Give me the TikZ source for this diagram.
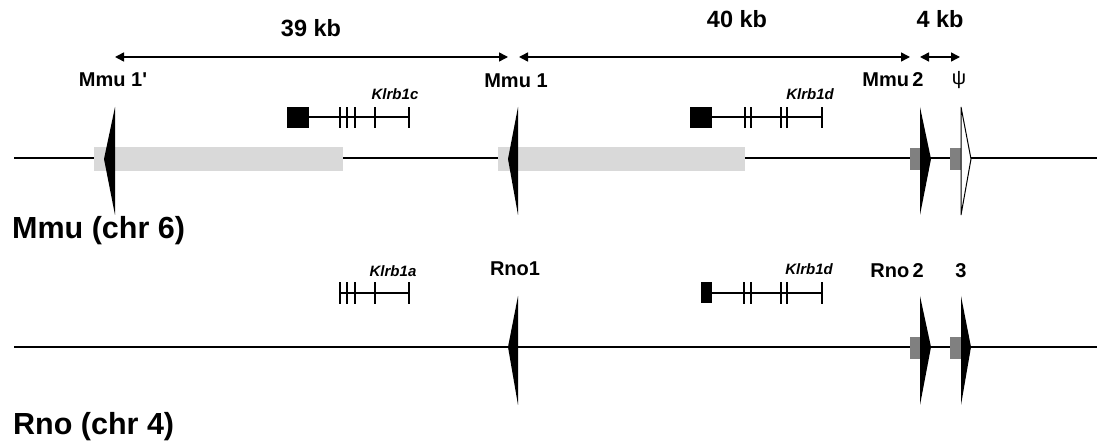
\documentclass[tikz,border=0pt]{standalone}
\usepackage{fontspec}
\setmainfont{Liberation Sans}[Ligatures=TeXOff]
\usetikzlibrary{arrows.meta}
\definecolor{lightgrey}{HTML}{D9D9D9}
\definecolor{darkgrey}{HTML}{808080}
\newlength{\basisb}
\setlength{\basisb}{1pt}
\tikzset{
  kblabel/.style={font=\fontsize{23.5}{28}\selectfont\bfseries, anchor=base, inner sep=0pt},
  sitelabel/.style={font=\fontsize{20}{24}\selectfont\bfseries, anchor=base, inner sep=0pt},
  genelabel/.style={font=\fontsize{15}{18}\selectfont\bfseries\itshape, anchor=base, inner sep=0pt},
  chrlabel/.style={font=\fontsize{30.5}{36}\selectfont\bfseries, anchor=base west, inner sep=0pt},
  kbarrow/.style={arrows={Triangle[length=9pt,width=9pt]-Triangle[length=9pt,width=9pt]}, line width=1.5},
  chromline/.style={line width=2.6},
  genetick/.style={line width=1.2},
  thickbar/.style={line width=2.6}
}
\begin{document}
\begin{tikzpicture}[x=\basisb, y=\basisb]
    \useasboundingbox (0,0) rectangle (1097,444);

    % sites on the two chromosomes
    \coordinate (Mmu1p) at (115,286);
    \coordinate (Mmu1) at (518,286);
    \coordinate (Mmu2) at (920,286);
    \coordinate (Psi) at (961,286);
    \coordinate (Rno1) at (518,97);
    \coordinate (Rno2) at (920,97);
    \coordinate (Rno3) at (961,97);

    % chromosome lines
    \coordinate (MmuStart) at (14,286);
    \coordinate (MmuEnd) at (1097,286);
    \coordinate (RnoStart) at (14,97);
    \coordinate (RnoEnd) at (1097,97);
    \draw[chromline] (MmuStart) -- (MmuEnd);
    \draw[chromline] (RnoStart) -- (RnoEnd);

    % duplicated blocks and small boxes
    \fill[lightgrey] (94,273) rectangle (343,297);
    \fill[lightgrey] (498,273) rectangle (745,297);
    \fill[darkgrey] (910,274) rectangle (921,296);
    \fill[darkgrey] (950,274) rectangle (961,296);
    \fill[darkgrey] (910,85) rectangle (920,107);
    \fill[darkgrey] (950,85) rectangle (961,107);

    % triangles
    \fill (115,337) .. controls (110,311) .. (104,285) .. controls (110,257) .. (115,229) -- cycle;
    \fill (518,337) .. controls (513.5,311) .. (508,285) .. controls (513.5,257) .. (518,229) -- cycle;
    \fill (920,337) .. controls (925,311) .. (931,285) .. controls (925,257) .. (920,229) -- cycle;
    \draw[fill=white, line width=1] (961,337) .. controls (965.5,311) .. (971,285) .. controls (965.5,257) .. (961,229) -- cycle;
    \fill (518,148) .. controls (513.5,122) .. (508,97) .. controls (513.5,68) .. (518,39) -- cycle;
    \fill (920,148) .. controls (925,122) .. (931,97) .. controls (925,68) .. (920,39) -- cycle;
    \fill (961,148) .. controls (965.5,122) .. (971,97) .. controls (965.5,68) .. (961,39) -- cycle;

    % distances
    \coordinate (Span1L) at (115,387);
    \coordinate (Span1R) at (508,387);
    \coordinate (Span2L) at (519,387);
    \coordinate (Span2R) at (910,387);
    \coordinate (Span3L) at (920,387);
    \coordinate (Span3R) at (960,387);
    \draw[kbarrow] (Span1L) -- (Span1R);
    \draw[kbarrow] (Span2L) -- (Span2R);
    \draw[kbarrow] (Span3L) -- (Span3R);
    \draw (311,407) node[kblabel] (Kb39) {39 kb};
    \draw (737,416) node[kblabel] (Kb40) {40 kb};
    \draw (940,416) node[kblabel] (Kb4) {4 kb};

    % site labels
    \draw (113,357) node[sitelabel] (LabMmu1p) {Mmu 1'};
    \draw (516,356) node[sitelabel] (LabMmu1) {Mmu 1};
    \draw (893,357) node[sitelabel] (LabMmu2) {Mmu\,2};
    \draw (959,359) node[sitelabel, font=\fontsize{20}{24}\selectfont] (LabPsi) {ψ};
    \draw (515,168) node[sitelabel] (LabRno1) {Rno1};
    \draw (897,166) node[sitelabel] (LabRno2) {Rno\,2};
    \draw (961,166) node[sitelabel] (LabRno3) {3};

    % Klrb1c
    \fill (287,316) rectangle (309,337);
    \draw[thickbar] (309,327) -- (340,327);
    \draw[genetick] (340,327) -- (409,327);
    \draw[thickbar] (340,316) -- (340,337);
    \foreach \x in {347,355,375,409} \draw[genetick] (\x,316) -- (\x,337);
    \draw (395,344) node[genelabel] (LabKlrb1c) {Klrb1c};

    % Klrb1d (mouse)
    \fill (690,316) rectangle (712,337);
    \draw[thickbar] (712,327) -- (745,327);
    \draw[genetick] (745,327) -- (822,327);
    \draw[thickbar] (745,316) -- (745,337);
    \foreach \x in {751,781,787,822} \draw[genetick] (\x,316) -- (\x,337);
    \draw (810,344) node[genelabel] (LabKlrb1dMmu) {Klrb1d};

    % Klrb1a
    \draw[genetick] (340,151) -- (409,151);
    \foreach \x in {340,347,355,375,409} \draw[genetick] (\x,140) -- (\x,162);
    \draw (393,167) node[genelabel] (LabKlrb1a) {Klrb1a};

    % Klrb1d (rat)
    \fill (701,141) rectangle (712,162);
    \draw[genetick] (712,151) -- (822,151);
    \foreach \x in {744,751,781,787,822} \draw[genetick] (\x,140) -- (\x,162);
    \draw (809,169) node[genelabel] (LabKlrb1dRno) {Klrb1d};

    % species
    \draw (12,205) node[chrlabel] (Mouse) {Mmu (chr 6)};
    \draw (13,9) node[chrlabel] (Rat) {Rno (chr 4)};
\end{tikzpicture}
\end{document}
